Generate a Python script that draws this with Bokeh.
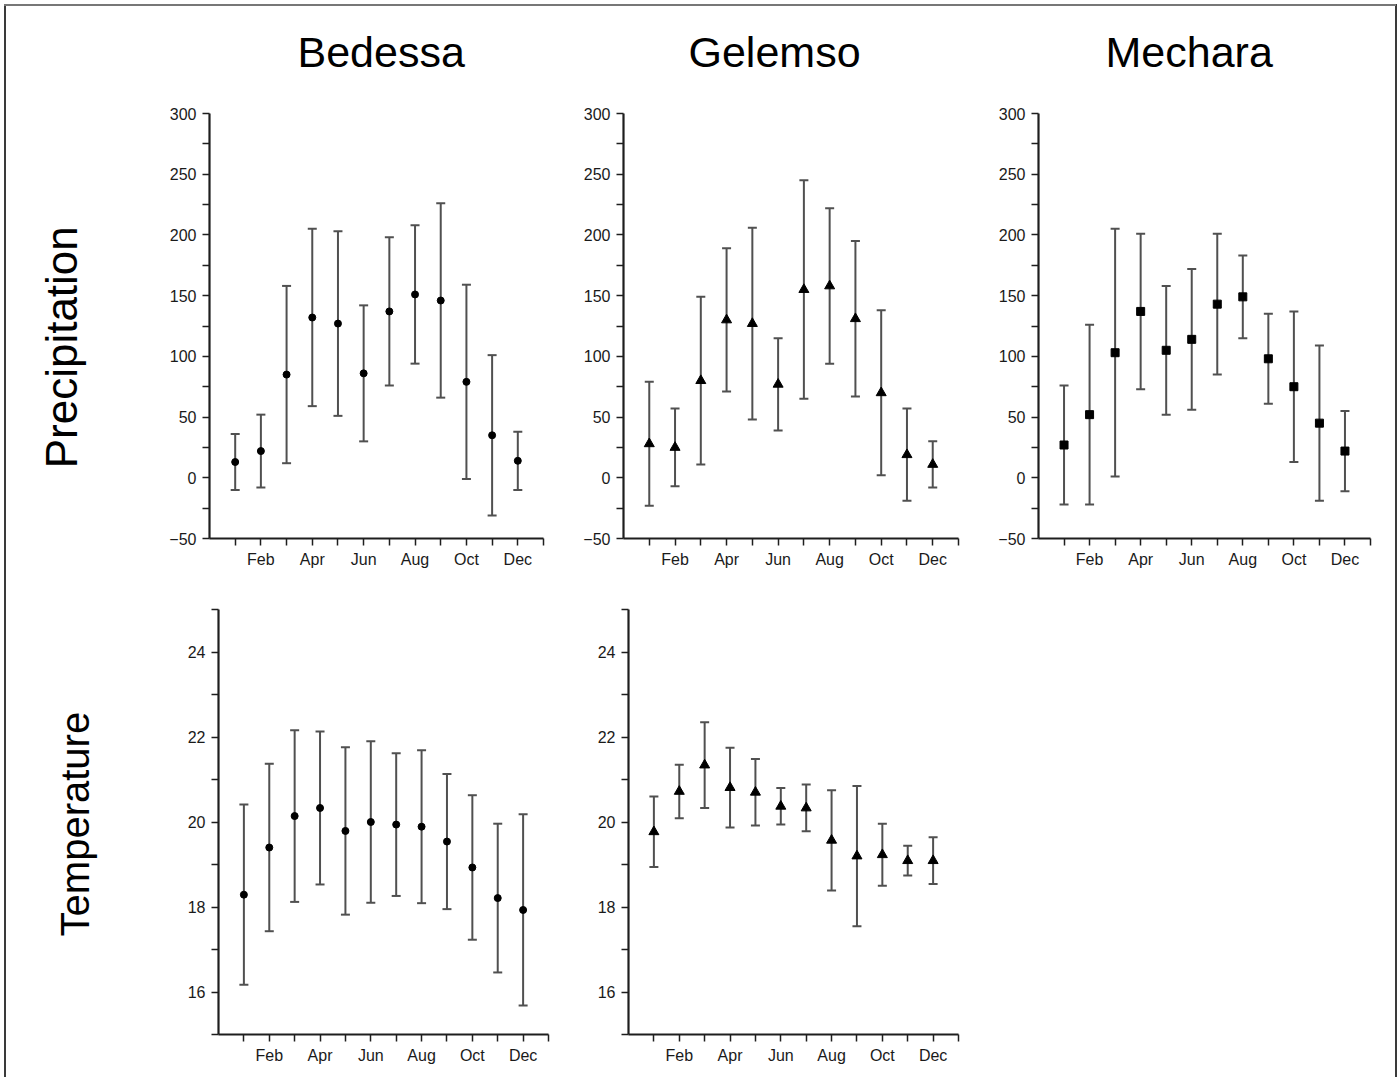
import math
from bokeh.plotting import figure
from bokeh.layouts import column, row
from bokeh.models import ColumnDataSource, Whisker, TeeHead, FixedTicker, Range1d, Spacer, Label
from bokeh.embed import file_html
from bokeh.resources import INLINE

months = [1, 2, 3, 4, 5, 6, 7, 8, 9, 10, 11, 12]
month_tick_labels = {2: "Feb", 4: "Apr", 6: "Jun", 8: "Aug", 10: "Oct", 12: "Dec"}
stations = ["Bedessa", "Gelemso", "Mechara"]
row_labels = ["Precipitation", "Temperature"]

bedessa_precip_mean = [13, 22, 85, 132, 127, 86, 137, 151, 146, 79, 35, 14]
bedessa_precip_err = [23, 30, 73, 73, 76, 56, 61, 57, 80, 80, 66, 24]
gelemso_precip_mean = [28, 25, 80, 130, 127, 77, 155, 158, 131, 70, 19, 11]
gelemso_precip_err = [51, 32, 69, 59, 79, 38, 90, 64, 64, 68, 38, 19]
mechara_precip_mean = [27, 52, 103, 137, 105, 114, 143, 149, 98, 75, 45, 22]
mechara_precip_err = [49, 74, 102, 64, 53, 58, 58, 34, 37, 62, 64, 33]

bedessa_temp_mean = [18.29, 19.40, 20.14, 20.33, 19.79, 20.00, 19.94, 19.89, 19.54, 18.93, 18.21, 17.93]
bedessa_temp_err = [2.12, 1.97, 2.02, 1.80, 1.97, 1.90, 1.68, 1.80, 1.59, 1.70, 1.75, 2.25]
gelemso_temp_mean = [19.77, 20.72, 21.34, 20.81, 20.70, 20.37, 20.33, 19.57, 19.20, 19.23, 19.09, 19.09]
gelemso_temp_err = [0.83, 0.63, 1.01, 0.94, 0.78, 0.43, 0.55, 1.18, 1.65, 0.73, 0.35, 0.55]

precip_ticks = [-50, 0, 50, 100, 150, 200, 250, 300]
precip_minor = [-25, 25, 75, 125, 175, 225, 275]
temp_ticks = [16, 18, 20, 22, 24]
temp_minor = [15, 17, 19, 21, 23, 25]

FONT = "Liberation Sans"
AX = "#1e1e1e"
BAR = "#505050"


def blank(width, height):
    b = figure(width=width, height=height, output_backend="svg", toolbar_location=None,
               x_range=Range1d(0, width), y_range=Range1d(0, height),
               x_axis_location=None, y_axis_location=None, min_border=0)
    b.outline_line_color = None
    b.grid.visible = False
    b.background_fill_color = None
    b.border_fill_color = None
    return b


def text_label(b, text, x, y, size, angle=0.0, align="left"):
    b.add_layout(Label(x=x, y=y, text=text, angle=angle, text_font=FONT, text_font_size=size,
                       text_color="black", text_align=align, text_baseline="middle"))


def panel(mean, err, marker, msize, yr, yticks, yminor, width, height, bl, br, bt, bb):
    p = figure(width=width, height=height, output_backend="svg", toolbar_location=None,
               x_range=Range1d(0, 13), y_range=Range1d(*yr),
               min_border_left=bl, min_border_right=br, min_border_top=bt, min_border_bottom=bb)
    p.outline_line_color = None
    p.grid.visible = False
    p.background_fill_color = None
    p.border_fill_color = None

    src = ColumnDataSource(dict(
        x=months, y=mean,
        upper=[m + e for m, e in zip(mean, err)],
        lower=[m - e for m, e in zip(mean, err)],
    ))
    w = Whisker(base="x", upper="upper", lower="lower", source=src,
                line_color=BAR, line_width=2,
                upper_head=TeeHead(size=9, line_color=BAR, line_width=2),
                lower_head=TeeHead(size=9, line_color=BAR, line_width=2))
    w.level = "underlay"
    p.add_layout(w)
    p.scatter("x", "y", source=src, marker=marker, size=msize,
              fill_color="black", line_color="black")

    p.xaxis.ticker = FixedTicker(ticks=[2, 4, 6, 8, 10, 12], minor_ticks=[1, 3, 5, 7, 9, 11, 13])
    p.xaxis.major_label_overrides = month_tick_labels
    p.yaxis.ticker = FixedTicker(ticks=yticks, minor_ticks=yminor)
    for ax in (p.xaxis[0], p.yaxis[0]):
        ax.axis_line_color = AX
        ax.axis_line_width = 2.2
        ax.major_tick_line_color = AX
        ax.minor_tick_line_color = AX
        ax.major_tick_line_width = 1.5
        ax.minor_tick_line_width = 1.5
        ax.major_tick_in = 0
        ax.major_tick_out = 7
        ax.minor_tick_in = 0
        ax.minor_tick_out = 7
        ax.major_label_text_font = FONT
        ax.major_label_text_font_size = "16px"
        ax.major_label_text_color = "#1a1a1a"
    p.xaxis.major_label_standoff = 5
    p.yaxis.major_label_standoff = 6
    return p


# title row (height 100)
t1 = blank(580, 100)
text_label(t1, stations[0], 297, 49, "43px")
t2 = blank(415, 100)
text_label(t2, stations[1], 108, 49, "43px")
t3 = blank(405, 100)
text_label(t3, stations[2], 110, 49, "43px")

# precipitation row (height 480)
s1 = blank(120, 480)
text_label(s1, row_labels[0], 61, 216, "44px", angle=math.pi / 2, align="center")
p1 = panel(bedessa_precip_mean, bedessa_precip_err, "circle", 7, (-50, 300), precip_ticks, precip_minor,
           460, 480, 89, 37, 13, 42)
p2 = panel(gelemso_precip_mean, gelemso_precip_err, "triangle", 10, (-50, 300), precip_ticks, precip_minor,
           415, 480, 42, 37, 13, 42)
p3 = panel(mechara_precip_mean, mechara_precip_err, "square", 8, (-50, 300), precip_ticks, precip_minor,
           405, 480, 41, 30, 13, 42)

# temperature row (height 497)
s2 = blank(120, 497)
text_label(s2, row_labels[1], 74, 246, "40px", angle=math.pi / 2, align="center")
p4 = panel(bedessa_temp_mean, bedessa_temp_err, "circle", 7, (15, 25), temp_ticks, temp_minor,
           460, 497, 98, 32, 29, 43)
p5 = panel(gelemso_temp_mean, gelemso_temp_err, "triangle", 10, (15, 25), temp_ticks, temp_minor,
           415, 497, 48, 37, 29, 43)

frame_styles = {
    "background-color": "white",
    "background-image": "linear-gradient(#777777,#777777), linear-gradient(#3a3a3a,#3a3a3a), linear-gradient(#3a3a3a,#3a3a3a)",
    "background-size": "1392px 2px, 2px 1077px, 2px 1077px",
    "background-position": "4px 4px, 4px 4px, 1395px 4px",
    "background-repeat": "no-repeat",
}

layout = column(row(t1, t2, t3, spacing=0),
                row(s1, p1, p2, p3, spacing=0),
                row(s2, p4, p5, Spacer(width=405, height=497), spacing=0),
                spacing=0, styles=frame_styles)

open("out.html", "w").write(file_html(layout, INLINE))
